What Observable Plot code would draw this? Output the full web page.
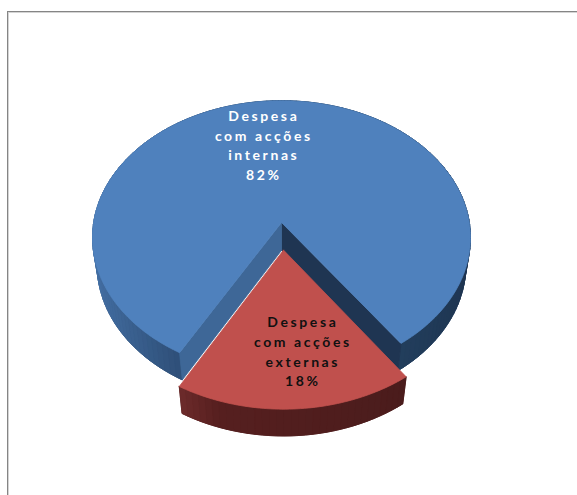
<!DOCTYPE html>
<html><head><meta charset="utf-8">
<script src="https://cdn.jsdelivr.net/npm/d3@7"></script>
<script src="https://cdn.jsdelivr.net/npm/@observablehq/plot@0.6"></script>
<style>
html,body{margin:0;padding:0;background:#fff;}
#wrap{position:relative;width:577px;height:495px;overflow:hidden;}
#frame{position:absolute;left:7px;top:11px;width:700px;height:600px;border:1px solid #858585;box-shadow:inset 1px 1px 0 #d4d4d4;pointer-events:none;}
.pie text{letter-spacing:2.6px;}
</style></head><body><div id="wrap"><div id="chart"></div><div id="frame"></div></div>
<script>
// ---- data ----
const categories = ["Despesa com acções internas", "Despesa com acções externas"];
const labelLines = [["Despesa", "com acções", "internas"], ["Despesa", "com acções", "externas"]];
const values = [82, 18];
const pctLabels = ["82%", "18%"];

// ---- styling / camera ----
const W = 577, H = 495;
const topColors = ["#4F81BD", "#C0504D"];
const labelColors = ["#ffffff", "#111111"];
const cam = {phi: 46 * Math.PI / 180, D: 6.34, k: 1191, cx: 281, cy: 222};
const thick = 0.219;
const explodeBy = [0, 0.2];
const startDeg = 35.4;
const sinP = Math.sin(cam.phi), cosP = Math.cos(cam.phi);

function proj(X, Y, Z) {
  const depth = cam.D - (Y * sinP + Z * cosP);
  return [X / depth, (Y * cosP - Z * sinP) / depth];
}

const arcs = d3.pie().sort(null)
  .startAngle(startDeg * Math.PI / 180)
  .endAngle(startDeg * Math.PI / 180 + 2 * Math.PI)(values);

const slices = arcs.map((a, i) => {
  const mid = (a.startAngle + a.endAngle) / 2;
  const e = explodeBy[i];
  return {i, a0: a.startAngle, a1: a.endAngle, mid, ox: e * Math.sin(mid), oz: e * Math.cos(mid)};
});

const rimShade = [
  d3.scaleLinear().domain([-1, -0.5, 0.5, 1]).range(["#4571A6", "#2F5079", "#23405F", "#1E3450"]).clamp(true),
  d3.scaleLinear().domain([-0.5, -0.3, 0.6]).range(["#6E2B2B", "#561F1F", "#4A1C1C"]).clamp(true)
];
const rimBase = ["#2A4870", "#501D1D"];
const radialColors = [["#1F3552", "#3E6797"], ["#5a2222", "#5a2222"]];

const polys = [];
let pid = 0;
function addPoly(pts, color) {
  const id = pid++;
  pts.forEach(p => polys.push({id, x: p[0], y: p[1], color}));
}
function pt(s, th, r, Y) {
  return proj(s.ox + r * Math.sin(th), Y, s.oz + r * Math.cos(th));
}
function rimFace(s) {
  const n = Math.max(8, Math.ceil((s.a1 - s.a0) / (Math.PI / 90)));
  const ths = d3.range(n + 1).map(j => s.a0 + (s.a1 - s.a0) * j / n);
  // solid base band (hides seams between shaded strips)
  addPoly([...ths.map(t => pt(s, t, 1, 0)), ...ths.slice().reverse().map(t => pt(s, t, 1, -thick)), pt(s, ths[0], 1, 0)], rimBase[s.i]);
  for (let j = 0; j < n; j++) {
    const t0 = ths[j], t1 = ths[j + 1];
    const c = rimShade[s.i](Math.sin((t0 + t1) / 2));
    addPoly([pt(s, t0, 1, 0), pt(s, t1, 1, 0), pt(s, t1, 1, -thick), pt(s, t0, 1, -thick), pt(s, t0, 1, 0)], c);
  }
}
function radialFaces(s) {
  [s.a0, s.a1].forEach((th, k) => {
    addPoly([pt(s, th, 0, 0), pt(s, th, 1, 0), pt(s, th, 1, -thick), pt(s, th, 0, -thick), pt(s, th, 0, 0)], radialColors[s.i][k]);
  });
}
function topFace(s) {
  const n = Math.ceil((s.a1 - s.a0) / (Math.PI / 180));
  const pts = [pt(s, s.a0, 0, 0)];
  for (let j = 0; j <= n; j++) pts.push(pt(s, s.a0 + (s.a1 - s.a0) * j / n, 1, 0));
  pts.push(pt(s, s.a0, 0, 0));
  addPoly(pts, topColors[s.i]);
}

const blueSlice = slices[0], redSlice = slices[1];
rimFace(blueSlice); radialFaces(blueSlice); topFace(blueSlice);
rimFace(redSlice); topFace(redSlice);

// labels
const labelR = [0.62, 0.66];
const labelDx = [-12, 12];
const labels = slices.map(s => {
  const p = pt(s, s.mid, labelR[s.i], 0);
  return {x: p[0], y: p[1], text: [...labelLines[s.i], pctLabels[s.i]].join("\n"), name: categories[s.i]};
});

const chart = Plot.plot({
  width: W, height: H,
  margin: 0,
  className: "pie",
  x: {domain: [(0 - cam.cx) / cam.k, (W - cam.cx) / cam.k], axis: null},
  y: {domain: [(cam.cy - H) / cam.k, cam.cy / cam.k], axis: null},
  color: {type: "identity"},
  style: {background: "transparent", fontFamily: "Lato, 'Open Sans', sans-serif"},
  marks: [
    Plot.line(polys, {x: "x", y: "y", z: "id", fill: "color", stroke: "color", strokeWidth: 0.8, strokeLinejoin: "round"}),
    Plot.text([labels[0]], {x: "x", y: "y", text: "text", fill: labelColors[0], dx: labelDx[0], fontSize: 14, fontWeight: "bold", lineHeight: 1.4, lineAnchor: "middle"}),
    Plot.text([labels[1]], {x: "x", y: "y", text: "text", fill: labelColors[1], dx: labelDx[1], fontSize: 14, fontWeight: "bold", lineHeight: 1.4, lineAnchor: "middle"})
  ]
});
document.getElementById("chart").appendChild(chart);
</script></body></html>
